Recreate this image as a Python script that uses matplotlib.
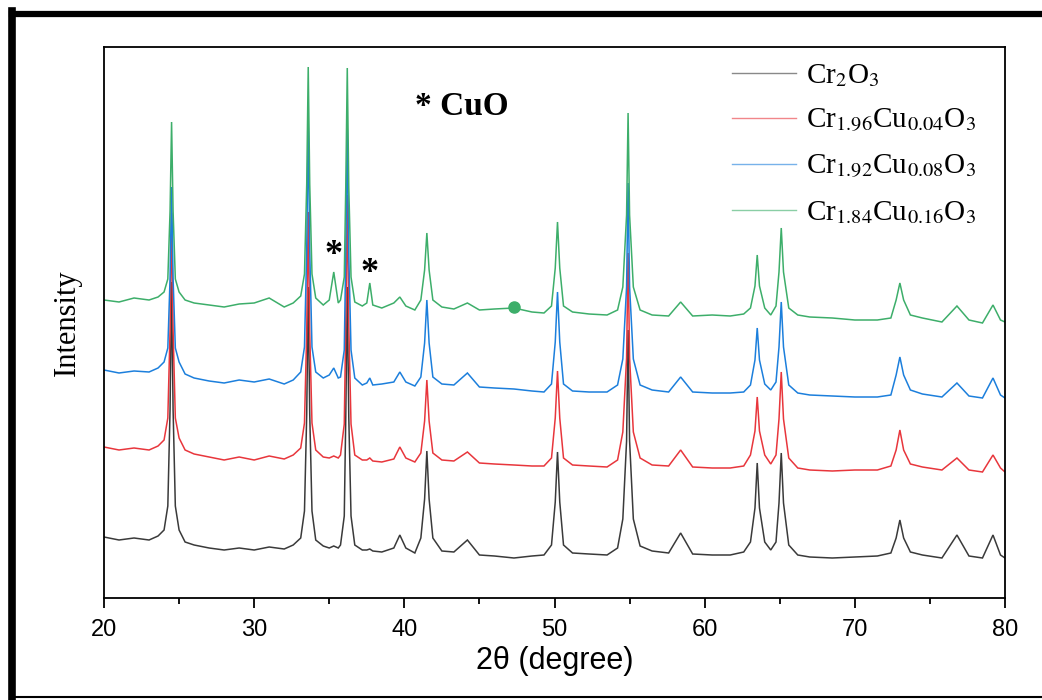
import matplotlib
matplotlib.use("Agg")
import matplotlib.pyplot as plt
from matplotlib.lines import Line2D

plt.rcParams['font.family'] = ['Liberation Sans', 'DejaVu Sans']
plt.rcParams['mathtext.fontset'] = 'stix'

# ---- data (2θ in degrees, intensity in arbitrary stacked units) ----
two_theta = [
    20, 21, 22, 23, 23.6, 24.0, 24.25, 24.4, 24.5, 24.6,
    24.75, 25.0, 25.4, 26, 27, 28, 29, 30, 31, 32,
    32.6, 33.1, 33.35, 33.5, 33.6, 33.7, 33.85, 34.1, 34.6, 35.0,
    35.3, 35.6, 35.75, 36.0, 36.1, 36.2, 36.3, 36.45, 36.7, 37.2,
    37.5, 37.7, 37.9, 38.5, 39.3, 39.7, 40.1, 40.7, 41.1, 41.35,
    41.5, 41.65, 41.9, 42.5, 43.3, 44.2, 45.0, 46.0, 47.3, 48.5,
    49.3, 49.8, 50.05, 50.2, 50.35, 50.6, 51.2, 52.3, 53.5, 54.2,
    54.55, 54.8, 54.9, 55.0, 55.25, 55.7, 56.5, 57.6, 58.4, 59.2,
    60.5, 61.7, 62.6, 63.05, 63.35, 63.5, 63.65, 64.0, 64.4, 64.75,
    64.95, 65.1, 65.25, 65.6, 66.2, 67.0, 68.5, 70.0, 71.5, 72.4,
    72.75, 73.0, 73.25, 73.7, 74.5, 75.8, 76.8, 77.6, 78.5, 79.2,
    79.7, 80,
]

cr2o3 = [
    61, 58, 60, 58, 62, 68, 92, 189, 316, 189,
    92, 68, 56, 53, 50, 48, 50, 48, 51, 49,
    53, 60, 87, 184, 311, 184, 87, 58, 52, 50,
    52, 50, 53, 82, 181, 311, 181, 82, 53, 48,
    48, 49, 47, 46, 50, 63, 50, 45, 60, 99,
    147, 99, 60, 47, 46, 58, 43, 42, 40, 42,
    43, 53, 96, 146, 96, 53, 45, 44, 43, 50,
    79, 157, 268, 157, 79, 52, 47, 45, 65, 44,
    43, 43, 46, 56, 90, 135, 90, 56, 48, 56,
    95, 145, 95, 53, 43, 41, 40, 41, 42, 45,
    60, 78, 60, 46, 43, 40, 63, 42, 40, 63,
    43, 40,
]

cu004 = [
    151, 148, 150, 148, 152, 158, 180, 268, 385, 268,
    180, 160, 148, 144, 141, 138, 141, 138, 142, 139,
    143, 150, 175, 266, 386, 266, 175, 148, 141, 140,
    142, 140, 143, 174, 273, 403, 273, 174, 143, 138,
    138, 140, 137, 136, 139, 151, 140, 136, 145, 177,
    218, 177, 145, 138, 137, 146, 135, 134, 133, 132,
    132, 140, 180, 227, 180, 140, 133, 132, 131, 138,
    166, 240, 345, 240, 166, 140, 133, 132, 148, 131,
    130, 130, 132, 143, 167, 201, 167, 143, 134, 143,
    179, 226, 179, 140, 130, 128, 127, 128, 128, 132,
    148, 168, 148, 134, 131, 128, 140, 128, 126, 143,
    130, 126,
]

cu008 = [
    228, 225, 227, 226, 230, 236, 250, 320, 411, 320,
    250, 236, 224, 220, 217, 215, 218, 216, 219, 214,
    218, 226, 251, 348, 476, 348, 251, 226, 220, 223,
    230, 220, 221, 248, 344, 470, 344, 248, 220, 213,
    215, 220, 213, 214, 216, 226, 216, 212, 221, 255,
    298, 255, 221, 214, 213, 225, 211, 210, 209, 207,
    206, 214, 256, 306, 256, 214, 207, 206, 206, 213,
    239, 311, 415, 311, 239, 213, 208, 206, 221, 206,
    205, 205, 206, 213, 238, 270, 238, 214, 208, 216,
    251, 296, 251, 213, 205, 203, 202, 201, 201, 203,
    223, 241, 223, 208, 204, 201, 215, 202, 200, 220,
    203, 200,
]

cu016 = [
    298, 296, 300, 298, 301, 306, 319, 387, 476, 387,
    319, 306, 298, 295, 293, 291, 294, 295, 300, 291,
    295, 302, 324, 414, 531, 414, 324, 300, 293, 298,
    326, 295, 298, 321, 411, 530, 411, 321, 296, 292,
    295, 315, 293, 290, 295, 301, 292, 288, 298, 328,
    365, 328, 298, 291, 289, 295, 288, 289, 290, 286,
    285, 292, 330, 376, 330, 292, 286, 284, 283, 288,
    311, 383, 485, 383, 311, 288, 283, 282, 296, 282,
    283, 282, 284, 290, 312, 343, 312, 290, 283, 292,
    326, 370, 326, 290, 283, 281, 280, 278, 278, 280,
    298, 315, 298, 283, 280, 276, 292, 278, 275, 293,
    278, 276,
]

series_labels = [r'Cr$_{2}$O$_{3}$',
                 r'Cr$_{1.96}$Cu$_{0.04}$O$_{3}$',
                 r'Cr$_{1.92}$Cu$_{0.08}$O$_{3}$',
                 r'Cr$_{1.84}$Cu$_{0.16}$O$_{3}$']
series_values = [cr2o3, cu004, cu008, cu016]
series_colors = ['#3a3a3a', '#e8363c', '#1c7fdc', '#3dae6a']

cuo_peaks_x = [35.3, 37.7]
cuo_marks_y = [342, 324]
dot_x = [47.3]
dot_y = [291]

# ---- figure ----
fig = plt.figure(figsize=(10.42, 7.0), dpi=100)
ax = fig.add_axes([104 / 1042, 102 / 700, 901 / 1042, 551 / 700])

for vals, col in zip(series_values, series_colors):
    ax.plot(two_theta, vals, color=col, lw=1.1, solid_joinstyle='miter')

ax.plot(dot_x, dot_y, 'o', color='#3dae6a', ms=8, zorder=5)
for xx, yy in zip(cuo_peaks_x, cuo_marks_y):
    ax.text(xx, yy, '*', ha='center', va='center', fontsize=26, fontweight='bold',
            family=['Liberation Serif', 'DejaVu Serif'])

ax.text(0.345, 0.892, '* CuO', transform=ax.transAxes, ha='left', va='center',
        fontsize=24, fontweight='bold', family=['Liberation Serif', 'DejaVu Serif'])

ax.set_xlim(20, 80)
ax.set_ylim(0, 551)
ax.set_xticks(range(20, 81, 10))
ax.set_xticks(range(25, 80, 10), minor=True)
ax.set_yticks([])
ax.tick_params(axis='x', which='major', direction='out', length=7, width=1.3,
               labelsize=17, pad=8)
ax.tick_params(axis='x', which='minor', direction='out', length=4, width=1.3)
for sp in ax.spines.values():
    sp.set_linewidth(1.3)

ax.set_xlabel('2θ (degree)', fontsize=22, labelpad=4)
ax.set_ylabel('Intensity', fontsize=22, family=['Liberation Serif', 'DejaVu Serif'],
              labelpad=16)

handles = [Line2D([], [], color=c, lw=1.0, alpha=0.6) for c in series_colors]
leg = ax.legend(handles, series_labels, loc='upper left',
                bbox_to_anchor=(0.697, 0.973), frameon=False,
                prop={'family': 'Liberation Serif', 'size': 21},
                handlelength=2.2, handletextpad=0.35, labelspacing=0.62,
                borderpad=0, borderaxespad=0)

# outer frame of the picture
fig.add_artist(Line2D([12 / 1042, 1.0], [1 - 13.5 / 700, 1 - 13.5 / 700],
                      transform=fig.transFigure, color='black', lw=4.5))
fig.add_artist(Line2D([12 / 1042, 12 / 1042], [1 - 11 / 700, 3 / 700],
                      transform=fig.transFigure, color='black', lw=5.5))
fig.add_artist(Line2D([12 / 1042, 1.0], [3 / 700, 3 / 700],
                      transform=fig.transFigure, color='black', lw=1.5))

fig.savefig('out.png', dpi=100)
